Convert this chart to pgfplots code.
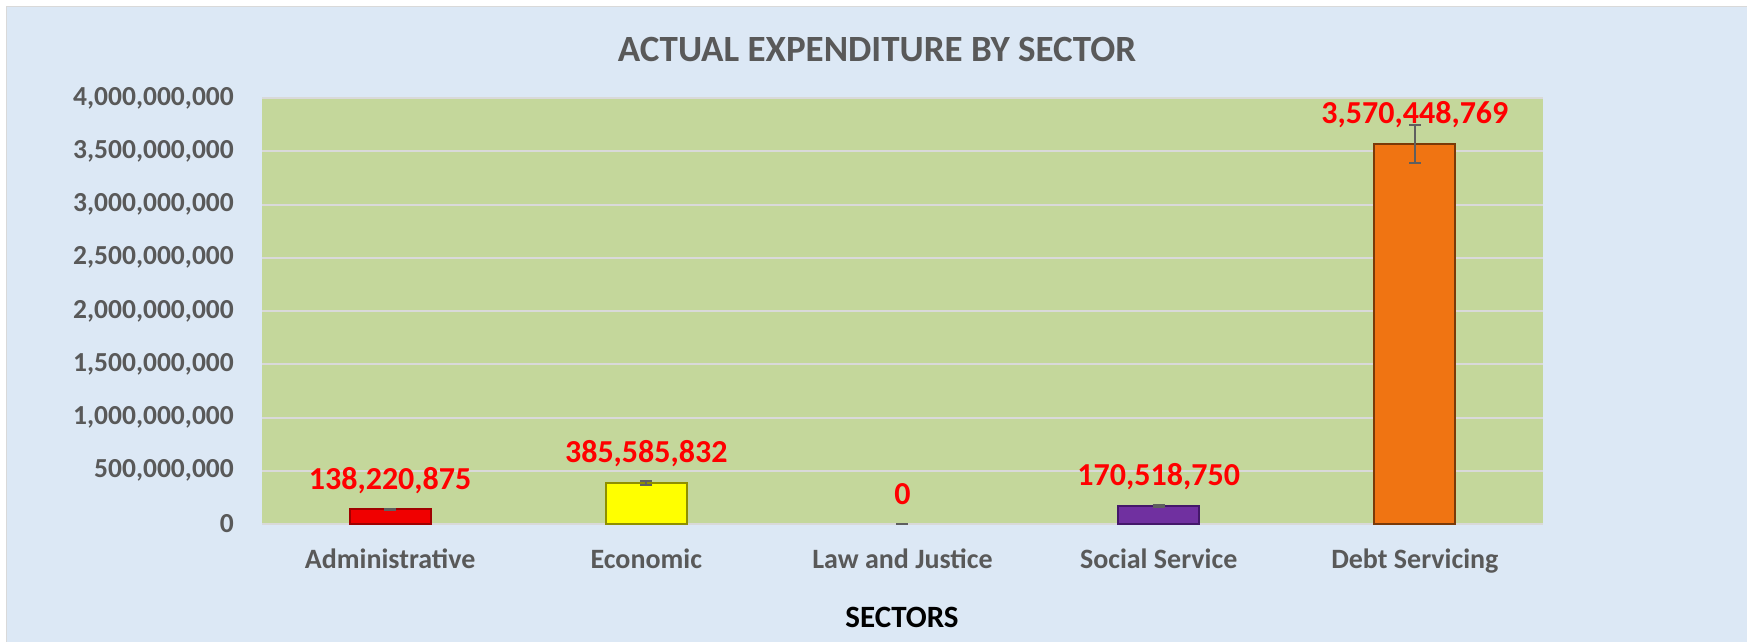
\documentclass[border=0pt]{standalone}
\usepackage{fontspec}
\setmainfont{Carlito}
\usepackage{pgfplots}
\pgfplotsset{compat=1.18}
\definecolor{bgblue}{HTML}{DCE8F5}
\definecolor{plotgreen}{HTML}{C4D79B}
\definecolor{gridgray}{HTML}{D9D9D9}
\definecolor{txtgray}{HTML}{595959}
\definecolor{errgray}{HTML}{5F5F5F}
\definecolor{barred}{HTML}{F00000}
\definecolor{edgered}{HTML}{A00000}
\definecolor{baryellow}{HTML}{FFFF00}
\definecolor{edgeyellow}{HTML}{8F8F00}
\definecolor{barpurple}{HTML}{7030A0}
\definecolor{edgepurple}{HTML}{44186A}
\definecolor{barorange}{HTML}{F07412}
\definecolor{edgeorange}{HTML}{7A3A08}
\begin{document}
\begin{tikzpicture}
\useasboundingbox (0pt,0pt) rectangle (1747pt,641pt);
\fill[white] (0pt,0pt) rectangle (1747pt,641pt);
\fill[bgblue, draw=gridgray, line width=1pt] (6pt,-2pt) rectangle (1749pt,634pt);
\node[font=\fontsize{37}{44}\selectfont\bfseries, text=txtgray, anchor=base, inner sep=0pt] at (877pt,579pt) {ACTUAL EXPENDITURE BY SECTOR};
\node[font=\fontsize{31}{37}\selectfont\bfseries, text=black, anchor=base, inner sep=0pt] at (902pt,14pt) {SECTORS};
\begin{axis}[
  at={(262pt,117pt)}, anchor=south west,
  scale only axis, width=1281pt, height=426pt,
  xmin=-0.5, xmax=4.5, ymin=0, ymax=4000000000,
  axis background/.style={fill=plotgreen},
  axis line style={draw=none},
  major tick length=0pt,
  ymajorgrids, major grid style={draw=gridgray, line width=2pt},
  xtick={0,1,2,3,4},
  xticklabels={Administrative,Economic,Law and Justice,Social Service,Debt Servicing},
  ytick={0,500000000,1000000000,1500000000,2000000000,2500000000,3000000000,3500000000,4000000000},
  yticklabels={0,{500,000,000},{1,000,000,000},{1,500,000,000},{2,000,000,000},{2,500,000,000},{3,000,000,000},{3,500,000,000},{4,000,000,000}},
  scaled y ticks=false,
  yticklabel style={font=\fontsize{27.5}{33}\selectfont\bfseries, text=txtgray, inner sep=0pt, anchor=east, xshift=-28pt},
  xticklabel style={font=\fontsize{28}{33}\selectfont\bfseries, text=txtgray, inner sep=0pt, anchor=base, yshift=-44pt},
  ybar, bar width=81pt, bar shift=0pt,
  clip=false,
  every node near coord/.append style={font=\fontsize{32}{38}\selectfont\bfseries, text=red, anchor=base, inner sep=0pt, yshift=20pt},
  error bars/y dir=both, error bars/y explicit,
  error bars/error bar style={draw=errgray, line width=2pt},
  error bars/error mark options={rotate=90, mark size=6pt, draw=errgray, line width=2pt},
]
\addplot[fill=barred, draw=edgered, line width=2pt, nodes near coords={138,220,875}] coordinates {(0,138220875) +- (0,6911044)};
\addplot[fill=baryellow, draw=edgeyellow, line width=2pt, nodes near coords={385,585,832}] coordinates {(1,385585832) +- (0,19279292)};
\addplot[fill=none, draw=none, nodes near coords={0}] coordinates {(2,0) +- (0,0)};
\addplot[fill=barpurple, draw=edgepurple, line width=2pt, nodes near coords={170,518,750}] coordinates {(3,170518750) +- (0,8525938)};
\addplot[fill=barorange, draw=edgeorange, line width=2pt, nodes near coords={3,570,448,769}] coordinates {(4,3570448769) +- (0,178522438)};
\end{axis}
\end{tikzpicture}
\end{document}
